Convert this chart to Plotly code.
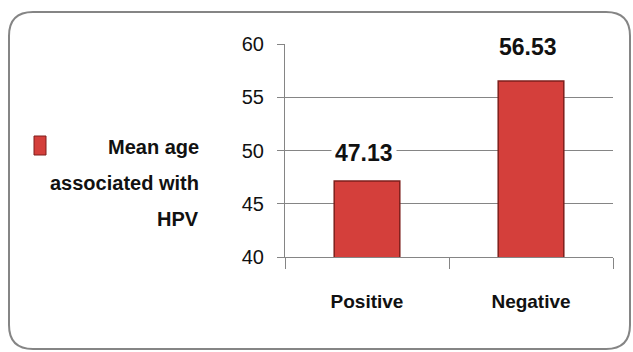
import plotly.graph_objects as go

# ---- data ----
categories = ["Positive", "Negative"]
mean_age = [47.13, 56.53]
value_labels = ["47.13", "56.53"]
series_name_lines = ["Mean age", "associated with", "HPV"]
y_ticks = [40, 45, 50, 55, 60]

# ---- layout geometry (pixels) ----
W, H = 633, 352
L, R, T, B = 285, 20, 44, 95
pw = W - L - R
ph = H - T - B


def px(x):
    return (x - L) / pw


def py(y):
    return (H - B - y) / ph


FONT = "Liberation Sans, Arial, sans-serif"
BAR = "#D43F3B"
BAR_EDGE = "#7E1F1C"
GRID = "#858585"

fig = go.Figure()
fig.add_trace(go.Bar(
    x=categories, y=mean_age, name=" ".join(series_name_lines),
    marker=dict(color=BAR, line=dict(color=BAR_EDGE, width=1.5)),
    showlegend=False, hoverinfo="skip",
))

annotations = []
label_shift = [28, 34]
for cat, val, txt, sh in zip(categories, mean_age, value_labels, label_shift):
    annotations.append(dict(
        x=cat, y=val, xref="x", yref="y", text=txt, showarrow=False,
        yanchor="middle", yshift=sh, xshift=-3, bgcolor="white", borderpad=3,
        font=dict(family=FONT, size=23, color="#111111", weight="bold"),
    ))

legend_centers = [147, 183, 219]
for line, cy in zip(series_name_lines, legend_centers):
    annotations.append(dict(
        x=px(201), y=py(cy), xref="paper", yref="paper", text=line,
        showarrow=False, xanchor="right", yanchor="middle",
        font=dict(family=FONT, size=20, color="#111111", weight="bold"),
    ))

# rounded border
x0, y0, x1, y1, r = 9, 12, 630, 349, 24
path = (
    f"M {px(x0 + r)},{py(y0)} L {px(x1 - r)},{py(y0)} "
    f"Q {px(x1)},{py(y0)} {px(x1)},{py(y0 + r)} "
    f"L {px(x1)},{py(y1 - r)} Q {px(x1)},{py(y1)} {px(x1 - r)},{py(y1)} "
    f"L {px(x0 + r)},{py(y1)} Q {px(x0)},{py(y1)} {px(x0)},{py(y1 - r)} "
    f"L {px(x0)},{py(y0 + r)} Q {px(x0)},{py(y0)} {px(x0 + r)},{py(y0)} Z"
)
shapes = [
    dict(type="path", path=path, xref="paper", yref="paper",
         line=dict(color="#858585", width=2), layer="above"),
    dict(type="rect", xref="paper", yref="paper",
         x0=px(34), x1=px(46), y0=py(155), y1=py(136),
         fillcolor=BAR, line=dict(color=BAR_EDGE, width=1)),
]

fig.update_layout(
    width=W, height=H,
    margin=dict(l=L, r=R, t=T, b=B),
    paper_bgcolor="white", plot_bgcolor="white",
    bargap=0.6,
    annotations=annotations,
    shapes=shapes,
    xaxis=dict(
        showline=True, linecolor=GRID, linewidth=1,
        ticks="outside", tickson="boundaries", ticklen=11, tickcolor=GRID,
        ticklabelstandoff=27,
        tickfont=dict(family=FONT, size=19, color="#111111", weight="bold"),
        showgrid=False,
    ),
    yaxis=dict(
        range=[40, 60], tickvals=y_ticks, ticktext=[str(v) for v in y_ticks],
        showgrid=True, gridcolor=GRID, gridwidth=1,
        showline=True, linecolor=GRID, linewidth=1,
        ticks="outside", ticklen=7, tickcolor=GRID,
        ticklabelstandoff=9, zeroline=False,
        tickfont=dict(family=FONT, size=20, color="#111111"),
    ),
)

fig.write_html("out.html")
